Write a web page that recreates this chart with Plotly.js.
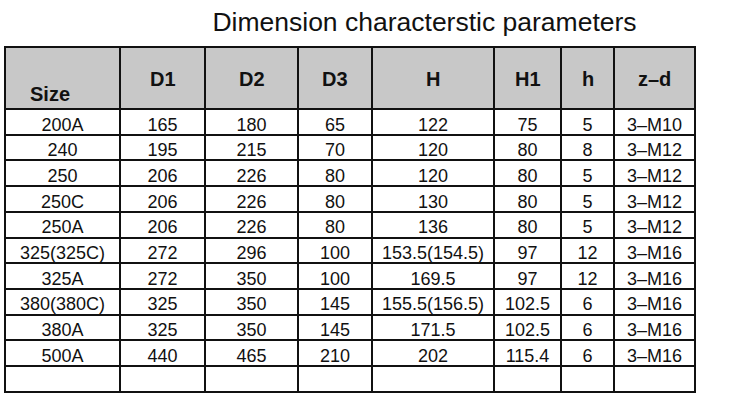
<!DOCTYPE html>
<html>
<head>
<meta charset="utf-8">
<script src="https://cdn.plot.ly/plotly-3.0.1.min.js"></script>
<style>html,body{margin:0;padding:0;background:#fff;}#chart{width:750px;height:419px;}</style>
</head>
<body>
<div id="chart"></div>
<script>
var headers = ["Size", "D1", "D2", "D3", "H", "H1", "h", "z\u2013d"];
var sizes = ["200A", "240", "250", "250C", "250A", "325(325C)", "325A", "380(380C)", "380A", "500A", ""];
var d1 = ["165", "195", "206", "206", "206", "272", "272", "325", "325", "440", ""];
var d2 = ["180", "215", "226", "226", "226", "296", "350", "350", "350", "465", ""];
var d3 = ["65", "70", "80", "80", "80", "100", "100", "145", "145", "210", ""];
var hVals = ["122", "120", "120", "130", "136", "153.5(154.5)", "169.5", "155.5(156.5)", "171.5", "202", ""];
var h1 = ["75", "80", "80", "80", "80", "97", "97", "102.5", "102.5", "115.4", ""];
var hSmall = ["5", "8", "5", "5", "5", "12", "12", "6", "6", "6", ""];
var zd = ["3\u2013M10", "3\u2013M12", "3\u2013M12", "3\u2013M12", "3\u2013M12", "3\u2013M16", "3\u2013M16", "3\u2013M16", "3\u2013M16", "3\u2013M16", ""];

var colWidths = [115, 85, 93, 74, 122, 67, 53, 81];

(function(){
var W = 750, H = 419;
var tblLeft = 5, tblRight = 695, tblTop = 47;
var FONT = "Liberation Sans, Arial, Helvetica, sans-serif";

var trace = {
  type: "table",
  domain: {x: [tblLeft/W, tblRight/W], y: [0, 1 - tblTop/H]},
  columnwidth: colWidths,
  header: {
    values: headers.map(function(){ return ""; }),
    height: 62,
    align: "center",
    fill: {color: "#c8c8c8"},
    line: {color: "#111", width: 2},
    font: {family: FONT, size: 20, color: "#111"}
  },
  cells: {
    values: [sizes, d1, d2, d3, hVals, h1, hSmall, zd],
    height: 25.7,
    align: "center",
    fill: {color: "#ffffff"},
    line: {color: "#111", width: 2},
    font: {family: FONT, size: 18, color: "#111"}
  }
};

// header labels, centred vertically in the header band
var totalW = colWidths.reduce(function(a,b){return a+b;},0);
var scale = (tblRight-tblLeft)/totalW;
var annotations = [];
var acc = tblLeft;
headers.forEach(function(h, i){
  var w = colWidths[i]*scale;
  var cx = acc + w/2;
  var isSize = (i === 0);
  annotations.push({
    text: "<b>" + h + "</b>",
    x: (isSize ? cx - 13 : cx)/W,
    y: 1 - (isSize ? 94 : 79)/H,
    xref: "paper", yref: "paper",
    xanchor: "center", yanchor: "middle",
    showarrow: false,
    font: {family: FONT, size: 20, color: "#111"}
  });
  acc += w;
});

var layout = {
  width: W,
  height: H,
  margin: {l: 0, r: 0, t: 0, b: 0},
  paper_bgcolor: "#ffffff",
  title: {
    text: "Dimension characterstic parameters",
    x: 424.5/W,
    xanchor: "center",
    xref: "paper",
    y: 1 - 22/H,
    yref: "container",
    yanchor: "middle",
    font: {family: FONT, size: 26.5, color: "#111"}
  },
  annotations: annotations
};

Plotly.newPlot("chart", [trace], layout, {displayModeBar: false, staticPlot: true});
})();
</script>
</body>
</html>
